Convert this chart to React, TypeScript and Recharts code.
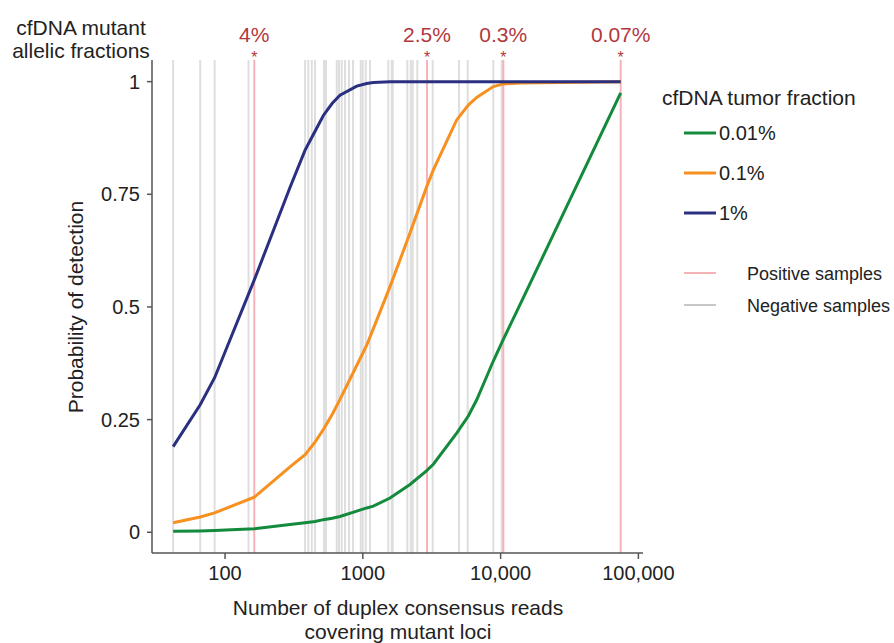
import React from "react";
import { LineChart, Line, XAxis, YAxis, ReferenceLine } from "recharts";

// read-depth grid (duplex consensus reads)
const depths = [42, 66, 84, 163, 296, 381, 450, 517, 600, 683, 903, 1067, 1192, 1575, 2200, 2909, 3249, 4800, 5830, 6708, 8852, 10460, 13830, 74400];
const tf001 = [0.002, 0.003, 0.004, 0.008, 0.017, 0.021, 0.024, 0.028, 0.031, 0.035, 0.047, 0.054, 0.058, 0.076, 0.106, 0.137, 0.151, 0.22, 0.258, 0.294, 0.38, 0.428, 0.505, 0.975];
const tf01 = [0.021, 0.034, 0.043, 0.078, 0.145, 0.172, 0.2, 0.228, 0.262, 0.295, 0.37, 0.415, 0.452, 0.545, 0.664, 0.767, 0.804, 0.915, 0.948, 0.965, 0.989, 0.995, 0.997, 1.0];
const tf1 = [0.19, 0.283, 0.343, 0.56, 0.765, 0.848, 0.89, 0.925, 0.952, 0.97, 0.99, 0.996, 0.998, 1, 1, 1, 1, 1, 1, 1, 1, 1, 1, 1];

const negativeSamples = [42, 66, 84, 148, 381, 402, 426, 450, 523, 540, 647, 672, 703, 743, 794, 849, 966, 998, 1050, 1128, 1531, 1621, 1649, 2103, 2227, 2301, 2484, 3213, 4989, 5768, 8850, 10190];
const positiveSamples = [163, 2924, 10460, 74400];
const positiveLabels = ["4%", "2.5%", "0.3%", "0.07%"];

const xTicks = [100, 1000, 10000, 100000];
const yTicks = [0, 0.25, 0.5, 0.75, 1];

const data = depths.map((x, i) => ({ x, a: tf001[i], b: tf01[i], c: tf1[i] }));

const FONT = "'Liberation Sans', Arial, sans-serif";
const RED = "#b3373d";
const PINK = "#f5b3b7";
const GRAY = "#dedede";

const fmtX = (v: number) => (v >= 10000 ? v.toLocaleString("en-US") : String(v));

export default function App() {
  return (
    <div style={{ position: "absolute", left: 0, top: 0, width: 894, height: 643, background: "#fff", fontFamily: FONT }}>
      <LineChart width={894} height={643} data={data} margin={{ top: 60, right: 251, left: 92, bottom: 60 }}>
        <XAxis
          dataKey="x"
          type="number"
          scale="log"
          domain={[29.5, 108000]}
          allowDataOverflow
          ticks={xTicks}
          tickFormatter={fmtX}
          height={30}
          stroke="#555"
          strokeWidth={1.5}
          tickSize={6}
          tick={{ fill: "#222", fontSize: 20, fontFamily: FONT, dy: 5 }}
        />
        <YAxis
          type="number"
          domain={[-0.046, 1.048]}
          allowDataOverflow
          ticks={yTicks}
          tickFormatter={(v: number) => String(v)}
          width={60}
          stroke="#555"
          strokeWidth={1.5}
          tickSize={5}
          tick={{ fill: "#222", fontSize: 20, fontFamily: FONT, dx: -5 }}
        />
        {negativeSamples.map((v) => (
          <ReferenceLine key={"n" + v} x={v} stroke={GRAY} strokeWidth={2} />
        ))}
        {positiveSamples.map((v, i) => (
          <ReferenceLine
            key={"p" + v}
            x={v}
            stroke={PINK}
            strokeWidth={2}
            label={(props: any) => {
              const vb = props.viewBox || {};
              return (
                <g>
                  <text x={vb.x} y={vb.y + 3} textAnchor="middle" fill={RED} fontSize={16} fontFamily={FONT}>*</text>
                  <text x={vb.x} y={vb.y - 18} textAnchor="middle" fill={RED} fontSize={21} fontFamily={FONT}>{positiveLabels[i]}</text>
                </g>
              );
            }}
          />
        ))}
        <Line dataKey="a" type="linear" stroke="#138a3c" strokeWidth={3} dot={false} isAnimationActive={false} />
        <Line dataKey="b" type="linear" stroke="#f7901e" strokeWidth={3} dot={false} isAnimationActive={false} />
        <Line dataKey="c" type="linear" stroke="#2b2f80" strokeWidth={3} dot={false} isAnimationActive={false} />
      </LineChart>
      <svg width={894} height={643} style={{ position: "absolute", left: 0, top: 0, pointerEvents: "none" }}>
        <g fontFamily={FONT} fill="#222" fontSize={21}>
          <text x={81} y={35} textAnchor="middle">cfDNA mutant</text>
          <text x={81} y={58} textAnchor="middle">allelic fractions</text>
          <text x={83} y={307} textAnchor="middle" transform="rotate(-90 83 307)">Probability of detection</text>
          <text x={398} y={615} textAnchor="middle">Number of duplex consensus reads</text>
          <text x={398} y={639} textAnchor="middle">covering mutant loci</text>
          <text x={662} y={105}>cfDNA tumor fraction</text>
          <line x1={684} x2={716} y1={133} y2={133} stroke="#138a3c" strokeWidth={3} />
          <text x={719} y={140} fontSize={20}>0.01%</text>
          <line x1={684} x2={716} y1={173} y2={173} stroke="#f7901e" strokeWidth={3} />
          <text x={719} y={180} fontSize={20}>0.1%</text>
          <line x1={684} x2={716} y1={213} y2={213} stroke="#2b2f80" strokeWidth={3} />
          <text x={719} y={220} fontSize={20}>1%</text>
          <line x1={684} x2={716} y1={273} y2={273} stroke={PINK} strokeWidth={2} />
          <text x={747} y={280} fontSize={18}>Positive samples</text>
          <line x1={684} x2={716} y1={305} y2={305} stroke="#c8c8c8" strokeWidth={2} />
          <text x={747} y={312} fontSize={18}>Negative samples</text>
        </g>
      </svg>
    </div>
  );
}
